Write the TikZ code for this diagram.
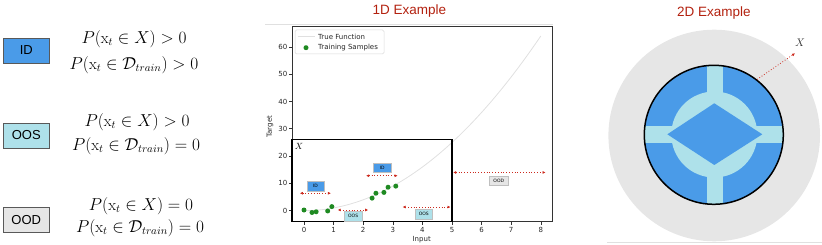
\documentclass[tikz,border=0pt]{standalone}
\usepackage{fontspec}
\setsansfont{Liberation Sans}
\newfontfamily\djv{DejaVu Sans}
\usetikzlibrary{arrows.meta}
\definecolor{idblue}{HTML}{4A9BE8}
\definecolor{oosc}{HTML}{AEE1EA}
\definecolor{oodc}{HTML}{E6E6E6}
\definecolor{titlered}{HTML}{B3210F}
\definecolor{arrred}{HTML}{CC2A1E}
\definecolor{dotgreen}{HTML}{1F8A22}
\begin{document}
\begin{tikzpicture}[x=1pt,y=-1pt,
  catbox/.style={draw=black!65, line width=0.8pt, minimum width=46pt, minimum height=25pt, inner sep=0pt, font=\sffamily\fontsize{13}{13}\selectfont},
  eq/.style={inner sep=0pt, font=\fontsize{16}{16}\selectfont},
  titlelab/.style={text=titlered, font=\sffamily\fontsize{13.5}{13.5}\selectfont},
  tick/.style={inner sep=0pt, text=black!85, font=\djv\fontsize{7}{7}\selectfont},
  smallbox/.style={draw=black!25, line width=0.4pt, minimum width=17.5pt, minimum height=9.3pt, inner sep=0pt, font=\djv\fontsize{4.5}{4.5}\selectfont},
  rarrow/.style={arrred, dotted, line width=0.8pt, {Latex[length=3pt,width=3pt]}-{Latex[length=3pt,width=3pt]}},
  dot/.style={circle, fill=dotgreen, inner sep=0pt, minimum size=5pt}]
\useasboundingbox (0,0) rectangle (822,245);

% ---------- left panel ----------
\node[catbox, fill=idblue] (idbox) at (26.3,50.5) {ID};
\node[eq] (ideq1) at (134,39) {$P(\mathrm{x}_t\in X)>0$};
\node[eq] (ideq2) at (134,65) {$P(\mathrm{x}_t\in \mathcal{D}_{train})>0$};

\node[catbox, fill=oosc] (oosbox) at (26.3,135.5) {OOS};
\node[eq] (ooseq1) at (137,122) {$P(\mathrm{x}_t\in X)>0$};
\node[eq] (ooseq2) at (136,146) {$P(\mathrm{x}_t\in \mathcal{D}_{train})=0$};

\node[catbox, fill=oodc] (oodbox) at (26.3,220) {OOD};
\node[eq] (oodeq1) at (141,206) {$P(\mathrm{x}_t\in X)=0$};
\node[eq] (oodeq2) at (140,228) {$P(\mathrm{x}_t\in \mathcal{D}_{train})=0$};

% ---------- 1D example ----------
\node[titlelab] (title1) at (409.5,11) {1D Example};
\draw[black!12, line width=0.5pt] (265,24) -- (553,24);

\begin{scope}[shift={(304pt,-210.7pt)}, x=29.6pt, y=2.73pt]
  \draw[black!12, line width=0.8pt] plot[domain=0:8, samples=80, smooth] (\x,{\x*\x});
  \draw[black!80, line width=1pt] (-0.4,-4) rectangle (8.4,67.6);
  \foreach \v in {0,...,8} {
    \draw[black!80, line width=0.6pt] (\v,-4) -- (\v,-5.3);
    \node[tick] (xt\v) at (\v,-7.1) {\v};
  }
  \foreach \v in {0,10,...,60} {
    \draw[black!80, line width=0.6pt] (-0.4,\v) -- (-0.52,\v);
    \node[tick, anchor=east] (yt\v) at (-0.56,\v) {\v};
  }
  % training samples
  \foreach \i/\px/\py in {1/0.0/0.25, 2/0.27/-0.65, 3/0.41/-0.4, 4/0.8/-0.1, 5/0.94/1.5, 6/2.3/4.6, 7/2.43/6.4, 8/2.7/6.7, 9/2.84/8.6, 10/3.1/9.0}
    \node[dot] (s\i) at (\px,\py) {};
  % X region
  \draw[black, line width=1.4pt] (-0.4,-4) rectangle (5,26.15);
  \node[inner sep=0pt, font=\fontsize{9}{9}\selectfont] (xreg) at (-0.17,23.4) {$X$};
  % arrows
  \coordinate (a1l) at (-0.14,6.4); \coordinate (a1r) at (0.91,6.4);
  \coordinate (a2l) at (2.1,12.8);  \coordinate (a2r) at (3.16,12.8);
  \coordinate (a3l) at (1.14,0.26); \coordinate (a3r) at (2.17,0.26);
  \coordinate (a4l) at (3.33,1.35); \coordinate (a4r) at (4.95,1.35);
  \coordinate (a5l) at (5.04,14);   \coordinate (a5r) at (8.16,14);
  \draw[rarrow] (a1l) -- (a1r);
  \draw[rarrow] (a2l) -- (a2r);
  \draw[rarrow] (a3l) -- (a3r);
  \draw[rarrow] (a4l) -- (a4r);
  \draw[rarrow] (a5l) -- (a5r);
  \node[smallbox, fill=idblue] (id1) at (0.39,8.94) {ID};
  \node[smallbox, fill=idblue] (id2) at (2.64,15.8) {ID};
  \node[smallbox, fill=oosc] (oos1) at (1.66,-2.05) {OOS};
  \node[smallbox, fill=oosc] (oos2) at (4.05,-1.3) {OOS};
  \node[smallbox, fill=oodc, minimum width=19pt] (ood1) at (6.58,11.06) {OOD};
\end{scope}

% legend
\draw[black!15, fill=white, line width=0.5pt, rounded corners=1.5pt] (295,30) rectangle (384,54);
\coordinate (lg1) at (297.7,36.7); \coordinate (lg2) at (315,36.7);
\draw[black!12, line width=0.8pt] (lg1) -- (lg2);
\node[dot] (lgdot) at (306,47.7) {};
\node[tick, anchor=west] (lgt1) at (318,36.7) {True Function};
\node[tick, anchor=west] (lgt2) at (318,47.7) {Training Samples};

\node[tick, rotate=90] (ylab) at (270,126.7) {Target};
\node[tick] (xlab) at (421.7,240) {Input};

% ---------- 2D example ----------
\node[titlelab] (title2) at (714,13.3) {2D Example};
\fill[oodc] (714.2,135.5) circle[radius=105.8pt];
\draw[black!12, line width=0.5pt] (607,242) -- (822,242);
\begin{scope}
  \clip (713.8,134.8) circle[radius=69.5pt];
  \fill[idblue] (713.8,134.8) circle[radius=69.5pt];
  \fill[oosc] (706.7,60) rectangle (722.7,210);
  \fill[oosc] (640,126) rectangle (790,143.3);
  \fill[oosc] (714.3,134.5) circle[radius=43pt];
  \fill[idblue] (667.3,134.3) -- (714.3,103.3) -- (762.3,134.3) -- (714.3,165) -- cycle;
\end{scope}
\node[circle, draw=black, line width=1.5pt, minimum size=139pt, inner sep=0pt] (region) at (713.8,134.8) {};
\coordinate (xend) at (795,53.3);
\node[inner sep=0pt, text=black!80, font=\fontsize{11}{11}\selectfont] (xlab2) at (800,43) {$X$};
\draw[arrred, dotted, line width=0.8pt, -{Latex[length=3pt,width=3pt]}] (region.52) -- (xend);
\end{tikzpicture}
\end{document}
